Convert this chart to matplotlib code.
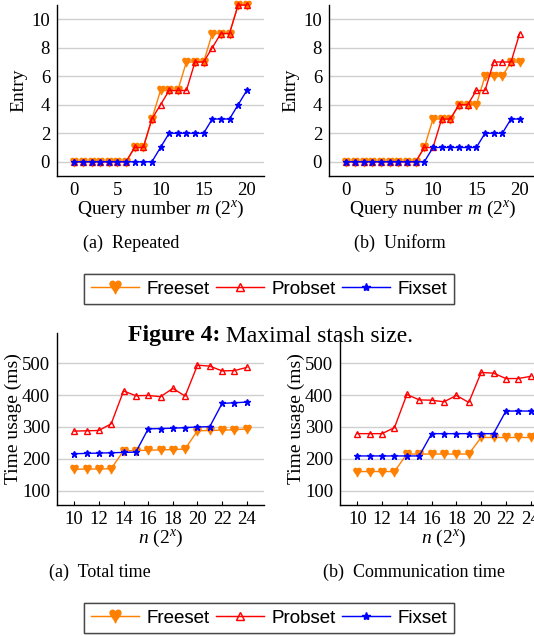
import matplotlib
matplotlib.use("Agg")
import matplotlib.pyplot as plt
from matplotlib.lines import Line2D

# ---------------- data ----------------
m_query = list(range(0, 21))
rep_freeset = [0, 0, 0, 0, 0, 0, 0, 1, 1, 3, 5, 5, 5, 7, 7, 7, 9, 9, 9, 11, 11]
rep_probset = [0, 0, 0, 0, 0, 0, 0, 1, 1, 3, 4, 5, 5, 5, 7, 7, 8, 9, 9, 11, 11]
rep_fixset = [0, 0, 0, 0, 0, 0, 0, 0, 0, 0, 1, 2, 2, 2, 2, 2, 3, 3, 3, 4, 5]

uni_freeset = [0, 0, 0, 0, 0, 0, 0, 0, 0, 1, 3, 3, 3, 4, 4, 4, 6, 6, 6, 7, 7]
uni_probset = [0, 0, 0, 0, 0, 0, 0, 0, 0, 1, 1, 3, 3, 4, 4, 5, 5, 7, 7, 7, 9]
uni_fixset = [0, 0, 0, 0, 0, 0, 0, 0, 0, 0, 1, 1, 1, 1, 1, 1, 2, 2, 2, 3, 3]

n_exp = list(range(10, 25))
tot_freeset = [167, 168, 168, 169, 225, 226, 227, 228, 229, 231, 288, 289, 290, 291, 294]
tot_probset = [287, 288, 289, 310, 413, 398, 399, 395, 421, 397, 494, 491, 476, 477, 487]
tot_fixset = [216, 217, 218, 219, 220, 221, 294, 295, 296, 298, 300, 301, 374, 376, 378]

com_freeset = [160, 160, 160, 160, 215, 215, 215, 215, 215, 215, 267, 267, 267, 267, 267]
com_probset = [279, 279, 279, 298, 402, 385, 384, 379, 399, 377, 471, 469, 452, 452, 459]
com_fixset = [209, 209, 209, 209, 209, 209, 279, 279, 279, 279, 279, 279, 350, 350, 350]

series_names = ["Freeset", "Probset", "Fixset"]
top_captions = ["(a)  Repeated", "(b)  Uniform"]
bottom_captions = ["(a)  Total time", "(b)  Communication time"]
figure_title_bold = "Figure 4:"
figure_title_rest = " Maximal stash size."

# ---------------- style ----------------
ORANGE = "#ff8000"
RED = "#ff0000"
BLUE = "#0000ff"
GRID = "#cfcfcf"
SERIF = ["Liberation Serif", "DejaVu Serif"]
SANS = ["Liberation Sans", "DejaVu Sans"]
HEART = "$\u2665$"

W, H = 534, 636
fig = plt.figure(figsize=(W / 100, H / 100), dpi=100)
plt.rcParams["font.family"] = SERIF
plt.rcParams["mathtext.fontset"] = "custom"
plt.rcParams["mathtext.it"] = "Liberation Serif:italic"
plt.rcParams["mathtext.rm"] = "Liberation Serif"


def px_axes(left, right, top, bottom):
    return fig.add_axes([left / W, 1 - bottom / H, (right - left) / W, (bottom - top) / H])


def style(ax, xlim, ylim, xticks, yticks, xlabel, ylabel, xtick_len, ylabelpad):
    ax.set_xlim(*xlim)
    ax.set_ylim(*ylim)
    ax.set_xticks(xticks)
    ax.set_yticks(yticks)
    for s in ["top", "right"]:
        ax.spines[s].set_visible(False)
    for s in ["left", "bottom"]:
        ax.spines[s].set_linewidth(1.0)
        ax.spines[s].set_color("black")
    ax.yaxis.grid(True, color=GRID, lw=1.0)
    ax.set_axisbelow(True)
    ax.tick_params(axis="y", length=0, pad=5, labelsize=13.5)
    ax.tick_params(axis="x", length=xtick_len, direction="in", pad=4, labelsize=13.5)
    ax.set_xlabel(xlabel, fontsize=14, labelpad=0)
    ax.set_ylabel(ylabel, fontsize=14, labelpad=ylabelpad)
    ax.patch.set_alpha(0)


def plot_three(ax, x, f, p, s):
    ax.plot(x, f, color=ORANGE, lw=1.0, marker=HEART, ms=6, mec=ORANGE, mfc=ORANGE, clip_on=False, zorder=3)
    ax.plot(x, p, color=RED, lw=1.0, marker="^", ms=4.5, mec=RED, mfc="none", mew=1.0, clip_on=False, zorder=4)
    ax.plot(x, s, color=BLUE, lw=1.0, marker="*", ms=4.5, mec=BLUE, mfc=BLUE, clip_on=False, zorder=5)


# top row
ax1 = px_axes(57, 264, 5, 176)
plot_three(ax1, m_query, rep_freeset, rep_probset, rep_fixset)
style(ax1, (-2, 22), (-1, 11), [0, 5, 10, 15, 20], [0, 2, 4, 6, 8, 10],
      r"Query number $m$ ($2^x$)", "Entry", 0, 3)

ax2 = px_axes(329, 537, 5, 176)
plot_three(ax2, m_query, uni_freeset, uni_probset, uni_fixset)
style(ax2, (-2, 22), (-1, 11), [0, 5, 10, 15, 20], [0, 2, 4, 6, 8, 10],
      r"Query number $m$ ($2^x$)", "Entry", 0, 3)

# bottom row
ax3 = px_axes(57, 264, 333, 505)
plot_three(ax3, n_exp, tot_freeset, tot_probset, tot_fixset)
style(ax3, (8.6, 25.4), (55, 595), list(range(10, 25, 2)), [100, 200, 300, 400, 500],
      r"$n$ ($2^x$)", "Time usage (ms)", 3, 0)

ax4 = px_axes(340, 548, 333, 505)
plot_three(ax4, n_exp, com_freeset, com_probset, com_fixset)
style(ax4, (8.6, 25.4), (55, 595), list(range(10, 25, 2)), [100, 200, 300, 400, 500],
      r"$n$ ($2^x$)", "Time usage (ms)", 3, 0)

# captions
fig.text(131 / W, 1 - 243 / H, top_captions[0], ha="center", va="center", fontsize=13)
fig.text(400 / W, 1 - 243 / H, top_captions[1], ha="center", va="center", fontsize=13)
fig.text(100 / W, 1 - 572 / H, bottom_captions[0], ha="center", va="center", fontsize=13)
fig.text(414 / W, 1 - 572 / H, bottom_captions[1], ha="center", va="center", fontsize=13)

# figure title
t1 = fig.text(128 / W, 1 - 336 / H, figure_title_bold, ha="left", va="center",
              fontsize=17, fontweight="bold")
fig.canvas.draw()
bb = t1.get_window_extent()
fig.text(bb.x1 / W, 1 - 336 / H, figure_title_rest, ha="left", va="center", fontsize=17)

# legends
handles = [
    Line2D([], [], color=ORANGE, lw=1.0, marker=HEART, ms=9, mec=ORANGE, mfc=ORANGE),
    Line2D([], [], color=RED, lw=1.0, marker="^", ms=6, mec=RED, mfc="none", mew=1.0),
    Line2D([], [], color=BLUE, lw=1.0, marker="*", ms=6, mec=BLUE, mfc=BLUE),
]


def add_legend(cy):
    leg = fig.legend(handles, series_names, loc="center", bbox_to_anchor=(269 / W, 1 - cy / H),
                     ncol=3, frameon=True, fancybox=False, handlelength=2.6,
                     handletextpad=0.4, columnspacing=0.3, borderpad=0.35,
                     prop={"family": SANS, "size": 13.5})
    fr = leg.get_frame()
    fr.set_edgecolor("#333333")
    fr.set_linewidth(1.0)
    fig.add_artist(leg)
    return leg


add_legend(289)
add_legend(618)

fig.savefig("out.png", dpi=100)
